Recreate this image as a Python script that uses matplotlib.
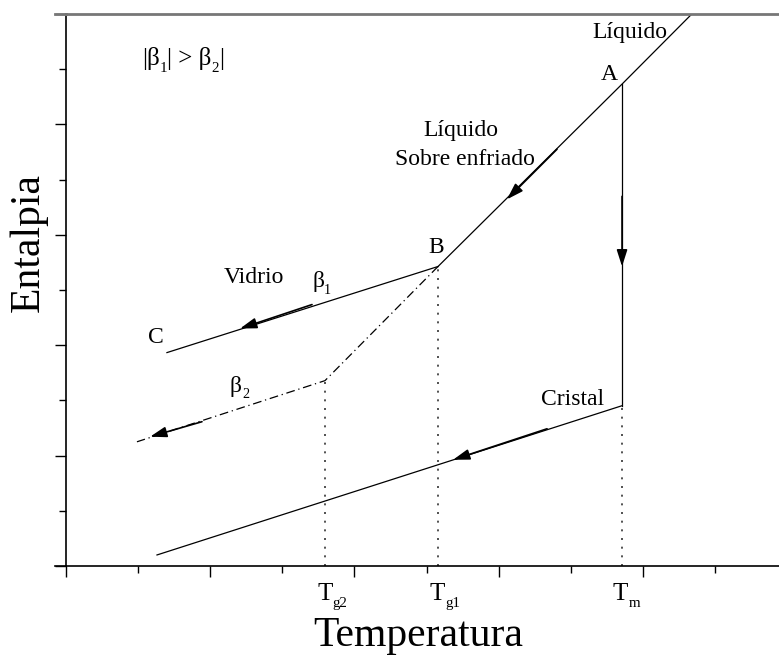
import matplotlib
matplotlib.use("Agg")
import matplotlib.pyplot as plt
from matplotlib.lines import Line2D
from matplotlib.transforms import offset_copy

plt.rcParams['font.family'] = ['Liberation Serif', 'DejaVu Serif']

# puntos del diagrama (Temperatura, Entalpia) en unidades de los ejes
liquido_x = [4.34, 3.856, 2.58]          # sale por arriba -> A -> B
liquido_y = [5.0, 4.365, 2.713]
vidrio1_x = [2.58, 0.70]                 # B -> C
vidrio1_y = [2.713, 1.933]
vidrio2_x = [2.58, 1.796, 0.492]         # B -> Tg2 -> extremo
vidrio2_y = [2.713, 1.679, 1.125]
cristal_x = [3.856, 0.631]
cristal_y = [1.452, 0.100]
fusion_x = [3.856, 3.856]                # A -> cristal
fusion_y = [4.365, 1.452]

# temperaturas caracteristicas (lineas punteadas)
temps_x = [1.796, 2.58, 3.856]
temps_y = [1.679, 2.713, 1.452]
temps_lbl = [[('T', 0), ('g2', 1)], [('T', 0), ('g1', 1)], [('T', 0), ('m', 1)]]
temps_lbl_x = [1.741, 2.524, 3.793]

# flechas: (punta, cola)
flechas = [
    ((3.058, 3.321), (3.405, 3.775)),
    ((3.856, 2.713), (3.856, 3.348)),
    ((1.207, 2.151), (1.706, 2.368)),
    ((0.583, 1.171), (0.943, 1.307)),
    ((2.684, 0.962), (3.336, 1.243)),
]

# etiquetas simples
etiquetas = [
    (3.911, 4.828, 'Líquido'),
    (3.766, 4.456, 'A'),
    (2.739, 3.947, 'Líquido'),
    (2.767, 3.684, 'Sobre enfriado'),
    (2.566, 2.886, 'B'),
    (1.304, 2.613, 'Vidrio'),
    (0.624, 2.069, 'C'),
    (3.516, 1.506, 'Cristal'),
]

# etiquetas con subindices (x izquierda, linea base)
etiquetas_sub = [
    (0.527, 4.537, [('|β', 0), ('1', 1), ('| > β', 0), ('2', 1), ('|', 0)], 18),
    (1.706, 2.523, [('β', 0), ('1', 1)], 17),
    (1.137, 1.579, [('β', 0), ('2', 1)], 17),
]

W, H = 779, 656
fig = plt.figure(figsize=(W / 100, H / 100), dpi=100)
ax = fig.add_axes([66 / W, (H - 566) / H, 721 / W, 552 / H])
ax.set_xlim(0, 5)
ax.set_ylim(0, 5)
renderer = fig.canvas.get_renderer()


def texto_sub(x, y, partes, fs):
    dx = 0.0
    for s, sub in partes:
        size = fs * 0.6 if sub else fs
        dy = -fs * 0.28 if sub else 0.0
        t = ax.text(x, y, s, fontsize=size, ha='left', va='baseline', clip_on=False,
                    transform=offset_copy(ax.transData, fig=fig, x=dx, y=dy, units='points'))
        dx += t.get_window_extent(renderer).width * 72 / fig.dpi


lw = 0.9
ax.plot(liquido_x, liquido_y, color='k', lw=lw)
ax.plot(vidrio1_x, vidrio1_y, color='k', lw=lw)
ax.plot(vidrio2_x, vidrio2_y, color='k', lw=lw, linestyle=(0, (7, 3, 1, 3)))
ax.plot(cristal_x, cristal_y, color='k', lw=lw)
ax.plot(fusion_x, fusion_y, color='k', lw=lw)

for tx, ty, lx, lbl in zip(temps_x, temps_y, temps_lbl_x, temps_lbl):
    ax.plot([tx, tx], [0, ty], color='#333333', lw=1.2, linestyle=(0, (1.2, 4)))
    texto_sub(lx, -0.309, lbl, 18)

for punta, cola in flechas:
    ax.annotate('', xy=punta, xytext=cola,
                arrowprops=dict(arrowstyle='-|>,head_length=1.0,head_width=0.32',
                                color='k', lw=1.2, shrinkA=0, shrinkB=0,
                                mutation_scale=10))

for x, y, s in etiquetas:
    ax.text(x, y, s, ha='center', va='center', fontsize=17)

for x, y, partes, fs in etiquetas_sub:
    texto_sub(x, y, partes, fs)

# ejes
ax.set_xticks([0, 1, 2, 3, 4, 5])
ax.set_xticks([0.5, 1.5, 2.5, 3.5, 4.5], minor=True)
ax.set_yticks([0, 1, 2, 3, 4, 5])
ax.set_yticks([0.5, 1.5, 2.5, 3.5, 4.5], minor=True)
ax.tick_params(which='both', direction='out', labelbottom=False, labelleft=False,
               top=False, right=False, width=1.0)
ax.tick_params(which='major', length=8)
ax.tick_params(which='minor', length=5)
ax.spines['right'].set_visible(False)
ax.spines['top'].set_color('#777777')
ax.spines['top'].set_linewidth(2)
ax.spines['bottom'].set_linewidth(1.2)
ax.spines['left'].set_linewidth(1.2)

# prolongacion de las lineas superior e inferior a la izquierda
fig.add_artist(Line2D([55 / W, 66 / W], [(H - 14) / H] * 2, color='#777777', lw=2))
fig.add_artist(Line2D([55 / W, 66 / W], [(H - 566) / H] * 2, color='k', lw=1.2))

fig.text(418 / W, (H - 646) / H, 'Temperatura', ha='center', va='baseline', fontsize=30)
fig.text(28.5 / W, (H - 242) / H, 'Entalpia', ha='center', va='center',
         rotation=90, fontsize=30)

fig.savefig('out.png', dpi=100)
